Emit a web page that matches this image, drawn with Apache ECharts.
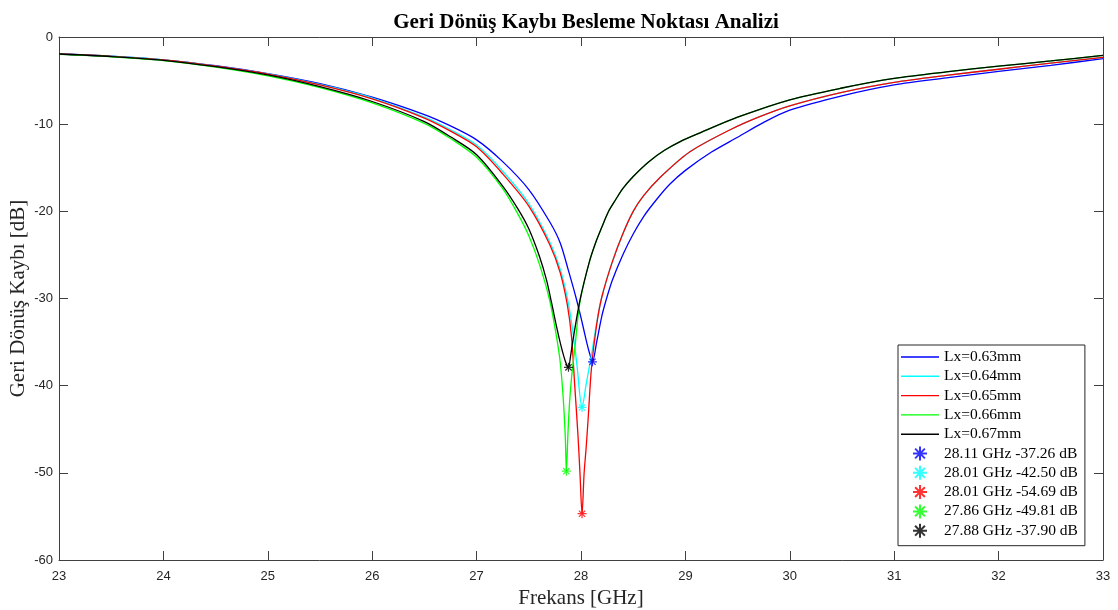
<!DOCTYPE html>
<html>
<head>
<meta charset="utf-8">
<script src="https://cdn.jsdelivr.net/npm/echarts@6/dist/echarts.min.js"></script>
<style>
html,body{margin:0;padding:0;background:#fff;}
#chart{width:1118px;height:610px;}
</style>
</head>
<body>
<div id="chart"></div>
<script>
// ---- Data ----
const titleText = 'Geri Dönüş Kaybı Besleme Noktası Analizi';
const xName = 'Frekans [GHz]';
const yName = 'Geri Dönüş Kaybı [dB]';

const seriesNames = ['Lx=0.63mm', 'Lx=0.64mm', 'Lx=0.65mm', 'Lx=0.66mm', 'Lx=0.67mm'];
const seriesColors = ['#0000ff', '#00ffff', '#ff0000', '#00ff00', '#000000'];

const f063 = [23, 23.5, 24, 24.5, 25, 25.5, 26, 26.5, 26.75, 27, 27.25, 27.5, 27.7, 27.8, 27.88, 27.95, 28.0, 28.05, 28.08, 28.11, 28.15, 28.2, 28.24, 28.3, 28.4, 28.5, 28.6, 28.72, 28.85, 29.0, 29.25, 29.5, 29.75, 30, 30.5, 31, 31.5, 32, 32.5, 33];
const db063 = [-1.95, -2.2, -2.62, -3.3, -4.2, -5.35, -6.9, -8.9, -10.2, -11.8, -14.3, -17.5, -21.2, -23.6, -26.8, -29.8, -32.2, -34.8, -36.2, -37.26, -35.0, -32.0, -30.2, -27.9, -25.0, -22.6, -20.6, -18.7, -16.9, -15.3, -13.2, -11.5, -9.8, -8.4, -6.75, -5.5, -4.7, -3.95, -3.25, -2.49];

const f064 = [23, 23.5, 24, 24.5, 25, 25.5, 26, 26.5, 26.75, 27, 27.25, 27.5, 27.7, 27.8, 27.87, 27.92, 27.96, 28.01, 28.05, 28.1, 28.15, 28.2, 28.3, 28.4, 28.5, 28.6, 28.75, 29.04, 29.42, 29.7, 30, 30.5, 31, 31.5, 32, 32.5, 33];
const db064 = [-1.95, -2.21, -2.63, -3.33, -4.23, -5.45, -7.0, -9.2, -10.65, -12.4, -15.4, -19.1, -23.5, -26.6, -30.0, -33.6, -37.5, -42.5, -39.8, -36.5, -32.8, -29.8, -25.8, -22.6, -20.0, -18.2, -16.2, -13.2, -10.7, -9.2, -7.9, -6.35, -5.2, -4.4, -3.7, -3.0, -2.33];

const f065 = [23, 23.5, 24, 24.5, 25, 25.5, 26, 26.5, 26.75, 27, 27.25, 27.5, 27.7, 27.8, 27.87, 27.91, 27.94, 27.97, 27.99, 28.01, 28.03, 28.05, 28.07, 28.1, 28.15, 28.2, 28.3, 28.4, 28.5, 28.6, 28.75, 29.04, 29.42, 29.7, 30, 30.5, 31, 31.5, 32, 32.5, 33];
const db065 = [-1.95, -2.22, -2.64, -3.35, -4.25, -5.5, -7.1, -9.3, -10.8, -12.6, -15.7, -19.4, -23.8, -27.0, -30.8, -34.5, -40.0, -45.5, -50.0, -54.69, -50.0, -47.0, -43.5, -38.0, -33.0, -29.8, -25.8, -22.6, -20.0, -18.2, -16.2, -13.2, -10.7, -9.2, -7.9, -6.35, -5.2, -4.4, -3.7, -3.0, -2.33];

const f066 = [23, 23.5, 24, 24.5, 25, 25.5, 26, 26.5, 26.75, 27, 27.25, 27.4, 27.5, 27.6, 27.7, 27.76, 27.8, 27.83, 27.85, 27.86, 27.875, 27.89, 27.91, 27.94, 27.99, 28.08, 28.14, 28.2, 28.26, 28.33, 28.4, 28.5, 28.65, 28.8, 28.95, 29.14, 29.5, 30, 30.5, 31, 31.5, 32, 32.5, 33];
const db066 = [-2.0, -2.27, -2.7, -3.45, -4.45, -5.8, -7.55, -9.9, -11.65, -13.8, -17.4, -20.4, -22.8, -26.0, -30.2, -34.0, -37.2, -41.5, -46.0, -49.81, -45.5, -42.0, -39.0, -35.8, -30.4, -25.8, -23.6, -21.8, -20.1, -18.7, -17.4, -16.0, -14.3, -13.0, -12.0, -11.0, -9.2, -7.2, -5.85, -4.75, -4.0, -3.35, -2.75, -2.1];

const f067 = [23, 23.5, 24, 24.5, 25, 25.5, 26, 26.5, 26.75, 27, 27.25, 27.4, 27.5, 27.6, 27.67, 27.72, 27.76, 27.81, 27.85, 27.88, 27.9, 27.92, 27.99, 28.08, 28.14, 28.2, 28.26, 28.33, 28.4, 28.5, 28.65, 28.8, 28.95, 29.14, 29.5, 30, 30.5, 31, 31.5, 32, 32.5, 33];
const db067 = [-1.95, -2.24, -2.67, -3.4, -4.35, -5.7, -7.4, -9.7, -11.45, -13.5, -17.1, -19.8, -22.0, -25.1, -27.9, -30.6, -32.9, -35.5, -37.2, -37.9, -36.6, -35.0, -30.2, -25.8, -23.6, -21.8, -20.1, -18.7, -17.4, -16.0, -14.3, -13.0, -12.0, -11.0, -9.2, -7.2, -5.85, -4.75, -4.0, -3.35, -2.75, -2.1];

const markerNames = ['28.11 GHz -37.26 dB', '28.01 GHz -42.50 dB', '28.01 GHz -54.69 dB', '27.86 GHz -49.81 dB', '27.88 GHz -37.90 dB'];
const markerFreq = [28.11, 28.01, 28.01, 27.86, 27.88];
const markerDb = [-37.26, -42.50, -54.69, -49.81, -37.90];

const xTicks = {min: 23, max: 33, interval: 1};
const yTicks = {min: -60, max: 0, interval: 10};

// ---- Build chart ----
const freqs = [f063, f064, f065, f066, f067];
const dbs = [db063, db064, db065, db066, db067];
const asterisk = 'path://M5,0L5,10M0,5L10,5M1.5,1.5L8.5,8.5M1.5,8.5L8.5,1.5';
const lineIcon = 'path://M0,0H38V1.4H0Z';

const axisColor = '#404040';
const textColor = '#262626';
const serif = '"Liberation Serif", "Times New Roman", serif';
const sans = '"Liberation Sans", Arial, Helvetica, sans-serif';

const series = [];
seriesNames.forEach((n, i) => {
  series.push({
    name: n, type: 'line', symbol: 'none', showSymbol: false, smooth: 0.3,
    data: freqs[i].map((f, k) => [f, dbs[i][k]]),
    lineStyle: {color: seriesColors[i], width: 1.3},
    itemStyle: {color: seriesColors[i]},
    animation: false, z: 2 + i
  });
});
markerNames.forEach((n, i) => {
  series.push({
    name: n, type: 'scatter', symbol: asterisk, symbolSize: 9, symbolKeepAspect: true,
    data: [[markerFreq[i], markerDb[i]]],
    itemStyle: {color: 'rgba(0,0,0,0)', borderColor: seriesColors[i], borderWidth: 1.2},
    animation: false, z: 10
  });
});

const legendData = seriesNames.map(n => ({name: n, icon: lineIcon}))
  .concat(markerNames.map(n => ({name: n})));

const axisCommon = {
  type: 'value',
  axisLine: {show: true, onZero: false, lineStyle: {color: axisColor, width: 1}},
  axisTick: {show: true, inside: true, length: 9, lineStyle: {color: axisColor}},
  splitLine: {show: false}
};

const chart = echarts.init(document.getElementById('chart'));
chart.setOption({
  backgroundColor: '#fff',
  animation: false,
  title: {
    text: titleText, left: 581, textAlign: 'center', top: 7,
    textStyle: {fontFamily: serif, fontWeight: 'bold', fontSize: 21, color: '#000'}
  },
  grid: {left: 59, right: 15, top: 37, bottom: 50, containLabel: false, outerBoundsMode: 'none'},
  legend: {
    orient: 'vertical', left: 898, top: 345,
    backgroundColor: '#fff', borderColor: '#262626', borderWidth: 1,
    padding: [4, 7, 7, 3],
    itemWidth: 38, itemHeight: 14, itemGap: 3.3,
    textStyle: {fontFamily: serif, fontSize: 15.5, color: '#000'},
    data: legendData,
    symbolKeepAspect: true
  },
  xAxis: [Object.assign({}, axisCommon, {
    position: 'bottom', min: xTicks.min, max: xTicks.max, interval: xTicks.interval,
    name: xName, nameLocation: 'middle', nameGap: 28, nameMoveOverlap: false,
    nameTextStyle: {fontFamily: serif, fontSize: 21, color: textColor},
    axisLabel: {fontFamily: sans, fontSize: 13, color: textColor, margin: 10}
  }), Object.assign({}, axisCommon, {
    position: 'top', min: xTicks.min, max: xTicks.max, interval: xTicks.interval,
    axisLabel: {show: false}
  })],
  yAxis: [Object.assign({}, axisCommon, {
    position: 'left', min: yTicks.min, max: yTicks.max, interval: yTicks.interval,
    name: yName, nameLocation: 'middle', nameGap: 30, nameMoveOverlap: false,
    nameTextStyle: {fontFamily: serif, fontSize: 21, color: textColor},
    axisLabel: {fontFamily: sans, fontSize: 13, color: textColor, margin: 6}
  }), Object.assign({}, axisCommon, {
    position: 'right', min: yTicks.min, max: yTicks.max, interval: yTicks.interval,
    axisLabel: {show: false}
  })],
  series: series
});
</script>
</body>
</html>
